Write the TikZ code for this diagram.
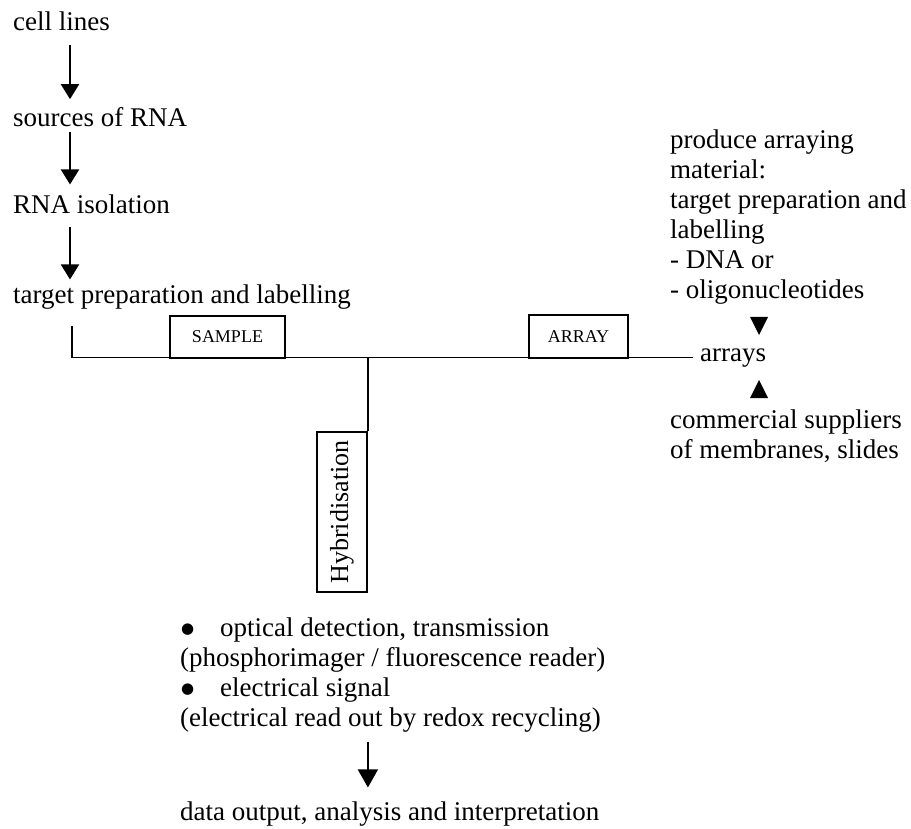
\documentclass[tikz,border=0pt]{standalone}
\usepackage{fontspec}
\setmainfont{Liberation Serif}
\newfontfamily\dejavu{DejaVu Sans}
\usetikzlibrary{arrows.meta}
\newcommand{\bigbul}{\makebox[40pt][l]{\hspace{1pt}\raisebox{3.5pt}{\dejavu\fontsize{15}{30}\selectfont ●}}}
\tikzset{
  txt/.style={inner sep=0pt, font=\fontsize{27}{30}\selectfont},
  blk/.style={txt, align=left, anchor=north west},
  lbox/.style={draw, line width=1.8pt, inner sep=0pt, font=\fontsize{18}{20}\selectfont},
  conn/.style={line width=1.5pt},
  bigarr/.style={line width=2pt, -{Triangle[length=15pt,width=18pt]}},
  smallarr/.style={line width=1.3pt, -{Triangle[length=18pt,width=20pt]}},
  tri/.style={fill=black},
}
\begin{document}
\begin{tikzpicture}[x=1pt,y=-1pt]
\useasboundingbox (0,0) rectangle (911,829);
% left column
\node[txt, anchor=base west] (cell) at (13,31) {cell lines};
\node[txt, anchor=base west] (src) at (13,127) {sources of RNA};
\node[txt, anchor=base west] (iso) at (13,214) {RNA isolation};
\node[txt, anchor=base west] (tgt) at (13,304) {target preparation and labelling};
\coordinate (ax) at (70,0);
\draw[bigarr, shorten <=14pt, shorten >=8.6pt] (cell.south -| ax) -- (src.north -| ax);
\draw[bigarr, shorten <=5pt, shorten >=10.6pt] (src.south -| ax) -- (iso.north -| ax);
\draw[bigarr, shorten <=13pt, shorten >=5.6pt] (iso.south -| ax) -- (tgt.north -| ax);
% right column
\node[blk] (mat) at (670,129.6) {produce arraying\\material:\\target preparation and\\labelling\\- DNA or\\- oligonucleotides};
\node[txt, anchor=base west] (arrays) at (700,361) {arrays};
\node[blk] (sup) at (670,409.6) {commercial suppliers\\of membranes, slides};
\fill[tri] (750,317) -- (768,317) -- (759,335) -- cycle;
\fill[tri] (750,398) -- (768,398) -- (759,380) -- cycle;
% bracket and boxes
\coordinate (bl) at (72,326);
\draw[conn] (bl) |- ([xshift=-7pt]arrays.west);
\node[lbox, minimum width=115pt, minimum height=42pt] (sample) at (227.5,337) {SAMPLE};
\node[lbox, minimum width=99pt, minimum height=43pt] (array) at (578.5,336.5) {ARRAY};
\node[draw, line width=1.8pt, inner sep=0pt, minimum width=50pt, minimum height=160pt, font=\fontsize{26}{28}\selectfont] (hyb) at (342,512) {\rotatebox{90}{Hybridisation}};
\draw[conn] (hyb.north east) -- (hyb.north east |- arrays.west);
% bottom
\node[blk] (det) at (180,617.6) {\bigbul optical detection, transmission\\(phosphorimager / fluorescence reader)\\\bigbul electrical signal\\(electrical read out by redox recycling)};
\node[txt, anchor=base west] (data) at (180,820) {data output, analysis and interpretation};
\draw[smallarr, shorten <=9pt, shorten >=13.6pt] (det.south -| hyb.east) -- (data.north -| hyb.east);
\end{tikzpicture}
\end{document}
